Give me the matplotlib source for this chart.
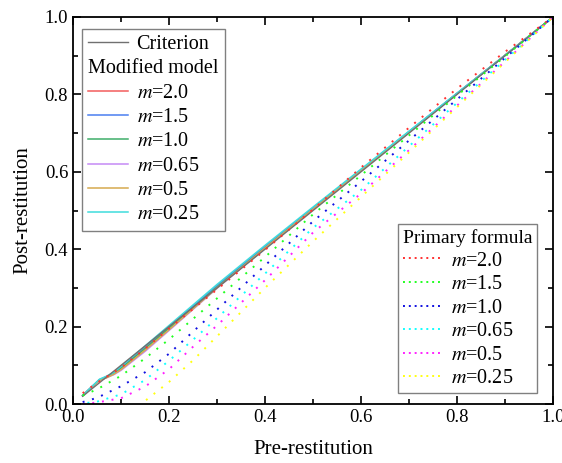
import matplotlib
matplotlib.use("Agg")
import matplotlib.pyplot as plt
from matplotlib.lines import Line2D

plt.rcParams['font.family'] = ['Liberation Serif', 'DejaVu Serif']
plt.rcParams['mathtext.fontset'] = 'stix'

# criterion: post = pre
crit_x = [0.02, 1.0]
crit_y = [0.02, 1.0]

m_labels = ['2.0', '1.5', '1.0', '0.65', '0.5', '0.25']

# modified model
mod_x = [0.02, 0.04, 0.055, 0.07, 0.085, 0.1, 0.15, 0.2, 0.3, 0.4, 0.5, 0.6, 0.7, 0.8, 0.9, 1.0]
mod_m20 = [0.022, 0.045, 0.062, 0.070, 0.080, 0.094, 0.145, 0.197, 0.303, 0.404, 0.504, 0.604, 0.703, 0.802, 0.901, 1.0]
mod_m15 = [0.022, 0.046, 0.063, 0.071, 0.081, 0.096, 0.148, 0.200, 0.306, 0.407, 0.506, 0.605, 0.704, 0.803, 0.901, 1.0]
mod_m10 = [0.022, 0.045, 0.062, 0.069, 0.079, 0.092, 0.143, 0.196, 0.302, 0.403, 0.504, 0.604, 0.703, 0.802, 0.901, 1.0]
mod_m065 = [0.022, 0.045, 0.061, 0.068, 0.076, 0.087, 0.136, 0.190, 0.299, 0.402, 0.503, 0.603, 0.702, 0.802, 0.901, 1.0]
mod_m05 = [0.022, 0.045, 0.061, 0.068, 0.077, 0.089, 0.139, 0.192, 0.300, 0.403, 0.503, 0.603, 0.702, 0.802, 0.901, 1.0]
mod_m025 = [0.022, 0.046, 0.064, 0.072, 0.082, 0.097, 0.150, 0.203, 0.309, 0.410, 0.509, 0.607, 0.705, 0.803, 0.901, 1.0]

# primary formula
pri_x = [0.02, 0.05, 0.1, 0.15, 0.2, 0.3, 0.4, 0.5, 0.6, 0.7, 0.8, 0.9, 1.0]
pri_m20 = [0.028, 0.055, 0.094, 0.143, 0.195, 0.296, 0.398, 0.503, 0.611, 0.714, 0.815, 0.910, 1.0]
pri_m15 = [0.022, 0.038, 0.073, 0.118, 0.167, 0.273, 0.380, 0.490, 0.591, 0.694, 0.797, 0.898, 1.0]
pri_m10 = [0.005, 0.016, 0.046, 0.082, 0.130, 0.244, 0.358, 0.472, 0.575, 0.681, 0.787, 0.894, 1.0]
pri_x065 = [0.03, 0.05, 0.1, 0.15, 0.2, 0.25, 0.3, 0.4, 0.5, 0.6, 0.7, 0.8, 0.9, 1.0]
pri_m065 = [0.003, 0.006, 0.025, 0.062, 0.112, 0.166, 0.222, 0.337, 0.455, 0.553, 0.666, 0.778, 0.889, 1.0]
pri_x05 = [0.02, 0.05, 0.1, 0.15, 0.2, 0.25, 0.3, 0.4, 0.5, 0.6, 0.7, 0.8, 0.9, 1.0]
pri_m05 = [0.0, 0.004, 0.015, 0.045, 0.090, 0.148, 0.203, 0.320, 0.443, 0.544, 0.656, 0.771, 0.885, 1.0]
pri_x025 = [0.152, 0.2, 0.25, 0.3, 0.4, 0.5, 0.6, 0.7, 0.8, 0.9, 1.0]
pri_m025 = [0.01, 0.057, 0.113, 0.175, 0.300, 0.420, 0.535, 0.650, 0.767, 0.883, 1.0]

mod_colors = ['#f25c5c', '#4a7ff0', '#3fae6a', '#c58af5', '#d6aa4e', '#3fdcdc']
pri_colors = ['#ff3030', '#20ff20', '#1010e0', '#10ffff', '#ff20ff', '#ffff10']

fig, ax = plt.subplots(figsize=(5.62, 4.63), dpi=100)
fig.subplots_adjust(left=0.13, right=0.984, bottom=0.1274, top=0.9633)

mod_ys = [mod_m20, mod_m15, mod_m10, mod_m065, mod_m05, mod_m025]
for y, c in zip(mod_ys, mod_colors):
    ax.plot(mod_x, y, color=c, lw=1.1)
ax.plot(crit_x, crit_y, color='#707070', lw=1.0)

pri_xs = [pri_x, pri_x, pri_x, pri_x065, pri_x05, pri_x025]
pri_ys = [pri_m20, pri_m15, pri_m10, pri_m065, pri_m05, pri_m025]
for x, y, c in zip(pri_xs, pri_ys, pri_colors):
    ax.plot(x, y, color=c, lw=1.4, linestyle=(0, (1, 4)))

ax.set_xlim(0, 1)
ax.set_ylim(0, 1)
ax.set_xticks([0, 0.2, 0.4, 0.6, 0.8, 1.0])
ax.set_yticks([0, 0.2, 0.4, 0.6, 0.8, 1.0])
ax.set_xticks([0.1, 0.3, 0.5, 0.7, 0.9], minor=True)
ax.set_yticks([0.1, 0.3, 0.5, 0.7, 0.9], minor=True)
ax.tick_params(which='both', direction='in', top=True, right=True, width=1.2, labelsize=13.5)
ax.tick_params(which='major', length=6)
ax.tick_params(which='minor', length=3.5)
for s in ax.spines.values():
    s.set_linewidth(1.3)
ax.set_xlabel('Pre-restitution', fontsize=15, labelpad=10)
ax.set_ylabel('Post-restitution', fontsize=15, labelpad=9)

# left legend: criterion + modified model
h1 = [Line2D([], [], color='#707070', lw=1.0), Line2D([], [], color='none')]
h1 += [Line2D([], [], color=c, lw=1.1) for c in mod_colors]
l1 = ['Criterion', 'Modified model'] + ['$m$=' + s for s in m_labels]
leg1 = ax.legend(h1, l1, loc='upper left', bbox_to_anchor=(0.019, 0.969), borderaxespad=0,
                 fontsize=14.5, handlelength=2.0, handletextpad=0.4, labelspacing=0.26,
                 borderpad=0.3, fancybox=False, edgecolor='#808080', framealpha=1)
leg1.get_frame().set_linewidth(1.0)
for col in leg1._legend_handle_box.get_children():
    for row in col.get_children():
        txt = row.get_children()[1].get_children()[0]
        if txt.get_text() == 'Modified model':
            row.get_children()[0].width = 0
            row.sep = 0
ax.add_artist(leg1)

# right legend: primary formula
h2 = [Line2D([], [], color=c, lw=1.4, linestyle=(0, (1, 2))) for c in pri_colors]
l2 = ['$m$=' + s for s in m_labels]
leg2 = ax.legend(h2, l2, loc='lower right', bbox_to_anchor=(0.967, 0.028), borderaxespad=0,
                 title='Primary formula', title_fontsize=14, alignment='left',
                 fontsize=14.5, handlelength=2.0, handletextpad=0.4, labelspacing=0.22,
                 borderpad=0.25, fancybox=False, edgecolor='#808080', framealpha=1)
leg2.get_frame().set_linewidth(1.0)

fig.savefig('out.png', dpi=100)
